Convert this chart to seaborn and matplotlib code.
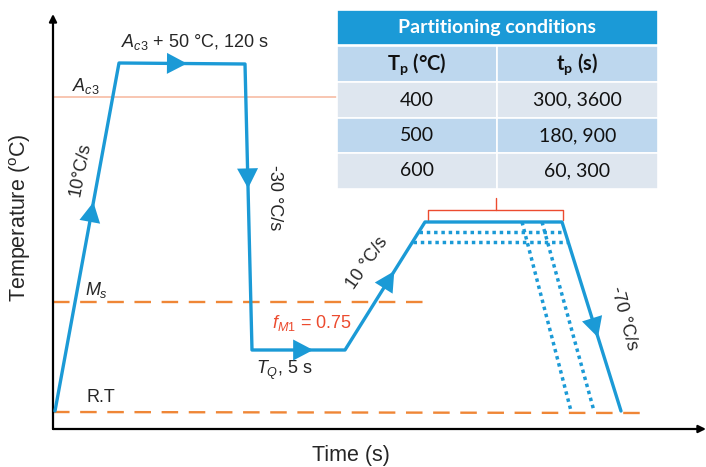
import numpy as np
import matplotlib
matplotlib.use("Agg")
import matplotlib.pyplot as plt
from matplotlib.patches import Polygon, Rectangle
import seaborn as sns

# Quenching & partitioning schedule (schematic time / temperature units)
profile_time = [2, 66, 192, 199, 292, 372, 509, 568]
profile_temp = [18, 366, 365, 79, 79, 207, 207, 18]

# Lower partitioning temperatures (dotted holds)
level_temps = [197, 187]
# Shorter partitioning times (dotted cooling branches)
branch_start_time = [469, 489]
branch_end_time = [518, 541]

temp_ac3 = 332
temp_ms = 127
temp_rt = 18

table_title = "Partitioning conditions"
table_cols = [r"T$_{\mathbf{p}}$ (°C)", r"t$_{\mathbf{p}}$ (s)"]
table_tp = ["400", "500", "600"]
table_times = ["300, 3600", "180, 900", "60, 300"]

BLUE = "#1b9ad6"
ORANGE = "#ef8636"
PEACH = "#f6b79c"
RED = "#ec4b2f"

sns.set_style("white")
plt.rcParams["font.family"] = ["Liberation Sans", "DejaVu Sans"]
plt.rcParams["mathtext.fontset"] = "custom"
plt.rcParams["mathtext.rm"] = "Liberation Sans"
plt.rcParams["mathtext.it"] = "Liberation Sans:italic"
plt.rcParams["mathtext.bf"] = "Lato:bold"
plt.rcParams["mathtext.default"] = "it"

W, H = 706, 467
fig = plt.figure(figsize=(W / 100, H / 100), dpi=100)
X0, Y0, Y1 = 53, 429, 14
ax = fig.add_axes([X0 / W, (H - Y0) / H, (W - X0) / W, (Y0 - Y1) / H])
ax.set_xlim(0, W - X0)
ax.set_ylim(0, Y0 - Y1)
ax.axis("off")


def P(px, py):
    """Pixel position on the canvas -> data coordinates."""
    return px - X0, Y0 - py


# axes with arrow heads
arrow_kw = dict(arrowstyle="-|>", lw=1.6, color="black", mutation_scale=11,
                shrinkA=0, shrinkB=0)
ax.annotate("", xy=(0, 1), xytext=(0, 0), xycoords="axes fraction",
            arrowprops=arrow_kw, annotation_clip=False)
ax.annotate("", xy=(1, 0), xytext=(0, 0), xycoords="axes fraction",
            arrowprops=arrow_kw, annotation_clip=False)

# reference temperatures
ax.plot([0, 285], [temp_ac3, temp_ac3], color=PEACH, lw=1.1, zorder=1)
ax.plot([0, 375], [temp_ms, temp_ms], color=ORANGE, lw=1.7,
        dashes=(7, 4.5), zorder=1)
ax.plot([0, 587], [temp_rt - 1, temp_rt - 2], color=ORANGE, lw=1.7,
        dashes=(7, 4.5), zorder=1)

# main thermal path
sns.lineplot(x=profile_time, y=profile_temp, sort=False, estimator=None,
             color=BLUE, lw=2.4, ax=ax, zorder=3)

# dotted alternatives
reheat_t0, reheat_T0 = profile_time[4], profile_temp[4]
reheat_t1, reheat_T1 = profile_time[5], profile_temp[5]
cool_t0, cool_T0 = profile_time[6], profile_temp[6]
cool_t1, cool_T1 = profile_time[7], profile_temp[7]
for T in level_temps:
    ta = reheat_t0 + (T - reheat_T0) * (reheat_t1 - reheat_t0) / (reheat_T1 - reheat_T0)
    tb = cool_t0 + (T - cool_T0) * (cool_t1 - cool_t0) / (cool_T1 - cool_T0)
    sns.lineplot(x=[ta, tb], y=[T, T], color=BLUE, lw=2.5,
                 linestyle=(0, (1, 1.1)), ax=ax, zorder=3)
for ts, te in zip(branch_start_time, branch_end_time):
    sns.lineplot(x=[ts, te], y=[profile_temp[5], temp_rt], sort=False,
                 estimator=None, color=BLUE, lw=2.5,
                 linestyle=(0, (1, 1.1)), ax=ax, zorder=3)


def arrow_head(i, frac, length=20, width=21):
    p0 = np.array([profile_time[i], profile_temp[i]], float)
    p1 = np.array([profile_time[i + 1], profile_temp[i + 1]], float)
    d = p1 - p0
    u = d / np.hypot(*d)
    n = np.array([-u[1], u[0]])
    c = p0 + frac * d
    tip = c + u * length / 2
    b = c - u * length / 2
    ax.add_patch(Polygon([tip, b + n * width / 2, b - n * width / 2],
                         closed=True, color=BLUE, zorder=5, lw=0))


for seg, frac in [(0, 0.572), (1, 0.46), (2, 0.40), (3, 0.55), (4, 0.55), (6, 0.56)]:
    arrow_head(seg, frac)

# bracket over the partitioning hold
bx0, bx1 = 375, 510
by, bh = 219, 10
ax.plot([bx0, bx0, bx1, bx1], [by - bh, by, by, by - bh], color=RED, lw=1.0, zorder=2)
ax.plot([(bx0 + bx1) / 2] * 2, [by, by + 12], color=RED, lw=1.0, zorder=2)

# annotations
fs = 13
ax.text(*P(195, 42), r"$A_{c3}$ + 50 °C, 120 s", fontsize=fs, ha="center", va="center")
ax.text(*P(86, 86), r"$A_{c3}$", fontsize=fs, ha="center", va="center")
ax.text(*P(80, 169), "10°C/s", fontsize=fs, ha="center", va="center", rotation=79)
ax.text(*P(274, 198), "-30 °C/s", fontsize=fs, ha="center", va="center", rotation=-90)
ax.text(*P(97, 290), r"$M_s$", fontsize=fs, ha="center", va="center")
ax.text(*P(312, 323), r"$f_{M1}$ = 0.75", fontsize=fs, ha="center", va="center", color=RED)
ax.text(*P(284, 370), r"$T_Q$, 5 s", fontsize=fs, ha="center", va="center")
ax.text(*P(367, 263), "10 °C/s", fontsize=fs, ha="center", va="center", rotation=55)
ax.text(*P(624, 318), "-70 °C/s", fontsize=fs, ha="center", va="center", rotation=-75)
ax.text(*P(101, 398), "R.T", fontsize=fs, ha="center", va="center")
fig.text(20 / W, 1 - 218 / H, r"Temperature ($^{\mathrm{o}}$C)", fontsize=15.5, rotation=90,
         ha="center", va="center")
fig.text(351 / W, 1 - 455 / H, "Time (s)", fontsize=15.5, ha="center", va="center")

# partitioning table
def cell(x0, y0, x1, y1, color):
    fig.patches.append(Rectangle((x0 / W, 1 - y1 / H), (x1 - x0) / W, (y1 - y0) / H,
                                 transform=fig.transFigure, facecolor=color,
                                 edgecolor="white", lw=1.2, zorder=10))


TX0, TXM, TX1 = 337, 497, 658
cell(TX0, 10, TX1, 45, "#1b9ad7")
fig.text((TX0 + TX1) / 2 / W, 1 - 28 / H, table_title, fontsize=14, fontweight="bold",
         color="white", family="Lato", ha="center", va="center", zorder=11)
rows_y = [(46, 82), (82, 118), (118, 153), (153, 189)]
row_colors = ["#bdd7ee", "#dee6ef", "#bdd7ee", "#dee6ef"]
for (ya, yb), col in zip(rows_y, row_colors):
    cell(TX0, ya, TXM, yb, col)
    cell(TXM, ya, TX1, yb, col)
ya, yb = rows_y[0]
for xc, lab in zip([(TX0 + TXM) / 2, (TXM + TX1) / 2], table_cols):
    fig.text(xc / W, 1 - (ya + yb) / 2 / H, lab, fontsize=14.5, fontweight="bold",
             family="Lato", ha="center", va="center", zorder=11, color="#111111")
for (ya, yb), tp, tt in zip(rows_y[1:], table_tp, table_times):
    fig.text((TX0 + TXM) / 2 / W, 1 - (ya + yb) / 2 / H, tp, fontsize=14,
             family="Lato", ha="center", va="center", zorder=11, color="#111111")
    fig.text((TXM + TX1) / 2 / W, 1 - (ya + yb) / 2 / H, tt, fontsize=14,
             family="Lato", ha="center", va="center", zorder=11, color="#111111")

fig.savefig("out.png", dpi=100)
